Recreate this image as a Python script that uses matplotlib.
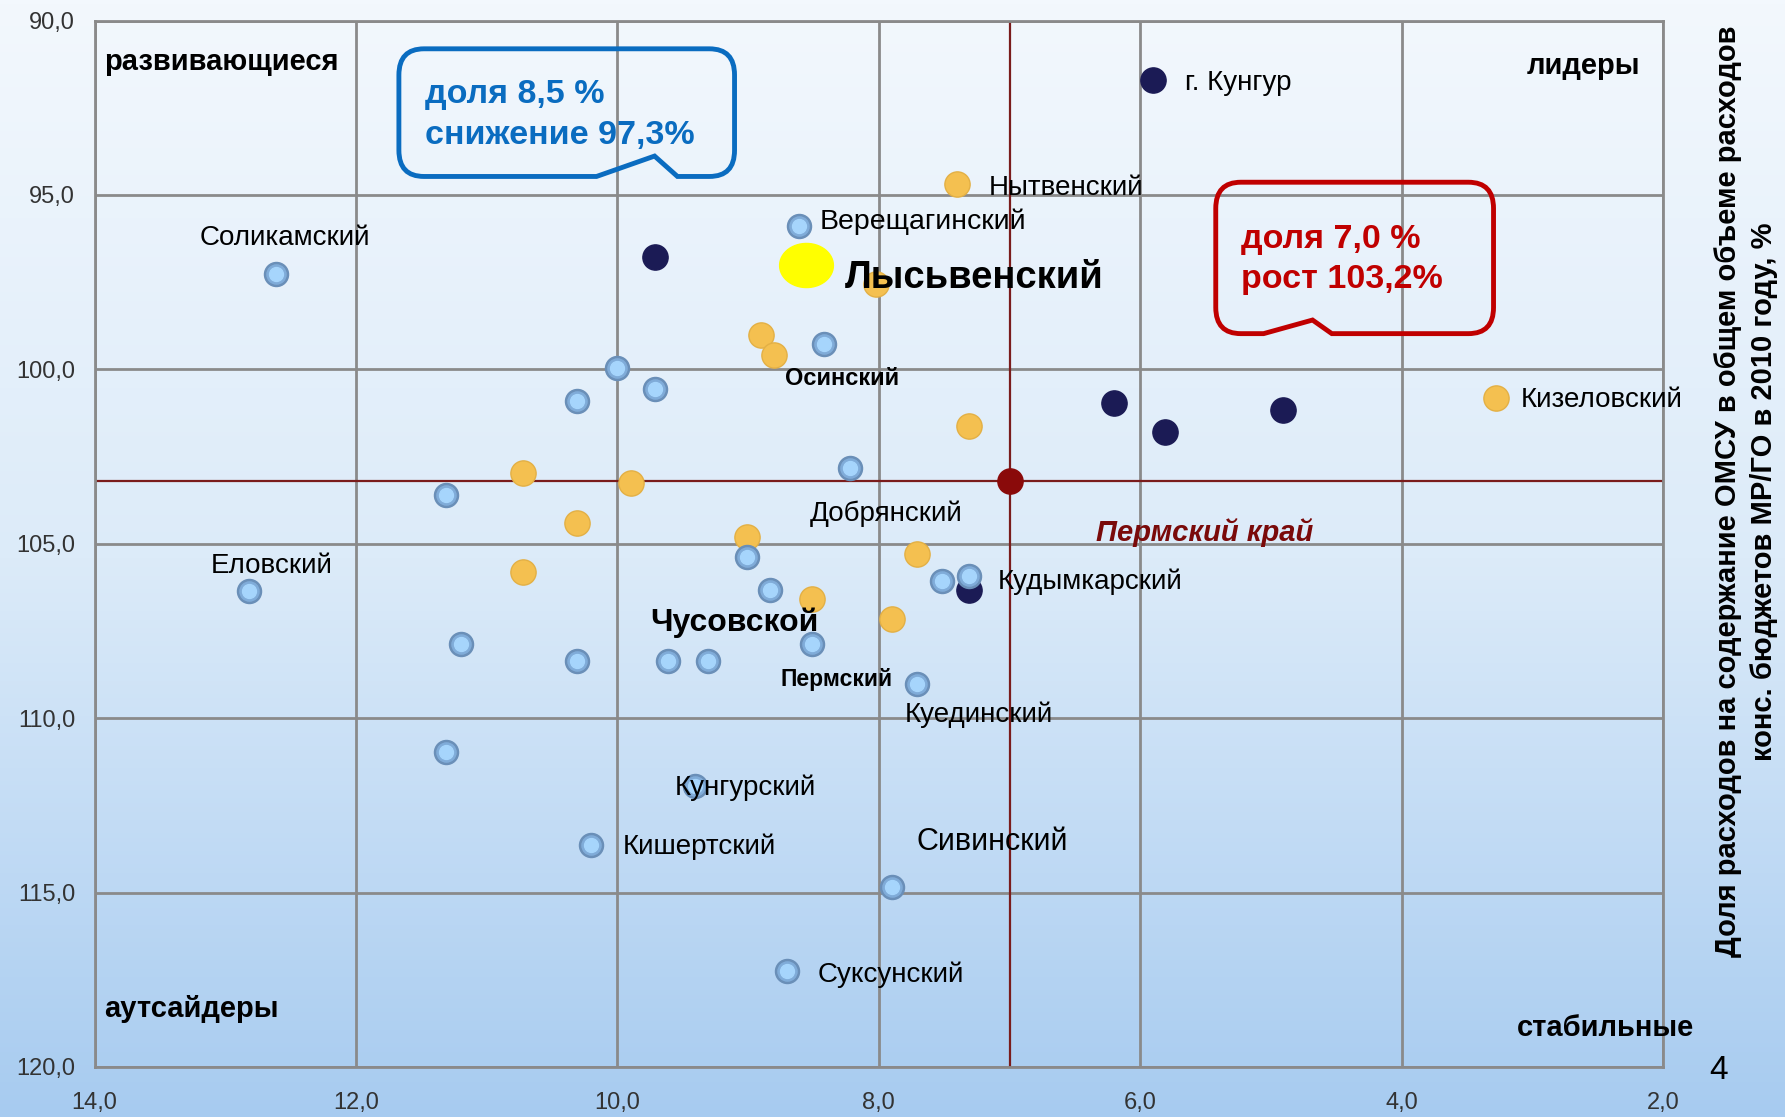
import numpy as np
import matplotlib
matplotlib.use('Agg')
import matplotlib.pyplot as plt
from matplotlib.path import Path
from matplotlib.patches import PathPatch
from matplotlib.ticker import FuncFormatter
from matplotlib.colors import LinearSegmentedColormap

# --- data ---
blue_x = [12.61, 8.61, 8.42, 10.0, 9.71, 10.31, 8.22, 11.31, 12.82, 9.01, 8.83,
          11.20, 10.31, 9.61, 9.31, 8.51, 7.71, 7.52, 7.31, 11.31, 9.41, 10.2,
          7.90, 8.70]
blue_y = [97.28, 95.88, 99.27, 99.96, 100.55, 100.9, 102.83, 103.61, 106.36,
          105.38, 106.32, 107.86, 108.35, 108.35, 108.35, 107.86, 109.03,
          106.06, 105.93, 110.96, 111.94, 113.64, 114.84, 117.26]
orange_x = [7.40, 8.02, 8.53, 8.90, 8.80, 7.31, 10.72, 9.90, 10.31, 9.01,
            7.71, 10.72, 8.51, 7.90, 3.28]
orange_y = [94.70, 97.54, 97.25, 99.01, 99.60, 101.62, 102.96, 103.25, 104.40,
            104.82, 105.28, 105.80, 106.59, 107.17, 100.81]
navy_x = [9.71, 5.90, 6.20, 5.81, 4.91, 7.31]
navy_y = [96.79, 91.70, 100.97, 101.79, 101.17, 106.32]
region_x, region_y = 7.0, 103.2          # Пермский край
lysva_x, lysva_y = 8.56, 97.0            # Лысьвенский

x_ticks = [14, 12, 10, 8, 6, 4, 2]
y_ticks = [90, 95, 100, 105, 110, 115, 120]

# labels: name, x, y, size, weight
labels = [
    ('Соликамский', 13.2, 96.24, 20, 'normal'),
    ('Верещагинский', 8.45, 95.78, 20.5, 'normal'),
    ('Лысьвенский', 8.26, 97.38, 27.5, 'bold'),
    ('Нытвенский', 7.16, 94.8, 20, 'normal'),
    ('г. Кунгур', 5.66, 91.8, 20, 'normal'),
    ('Кизеловский', 3.09, 100.87, 20, 'normal'),
    ('Осинский', 8.72, 100.25, 17, 'bold'),
    ('Добрянский', 8.53, 104.14, 20, 'normal'),
    ('Кудымкарский', 7.09, 106.1, 20, 'normal'),
    ('Еловский', 13.11, 105.64, 20, 'normal'),
    ('Чусовской', 9.75, 107.27, 23, 'bold'),
    ('Пермский', 8.75, 108.9, 16.5, 'semibold'),
    ('Куединский', 7.80, 109.9, 20, 'normal'),
    ('Кунгурский', 9.56, 112.0, 20, 'normal'),
    ('Кишертский', 9.96, 113.7, 20, 'normal'),
    ('Сивинский', 7.71, 113.54, 22, 'normal'),
    ('Суксунский', 8.47, 117.36, 20, 'normal'),
]

plt.rcParams['font.family'] = ['Liberation Sans', 'DejaVu Sans']

fig = plt.figure(figsize=(17.85, 11.17), dpi=100)

# background gradient
bg = fig.add_axes([0, 0, 1, 1], zorder=-10)
grad = np.linspace(0, 1, 256).reshape(-1, 1)
cm = LinearSegmentedColormap.from_list('bg', ['#f3f8fd', '#dcebf9', '#a7cbf0'])
bg.imshow(grad, aspect='auto', cmap=cm, extent=[0, 1, 0, 1])
bg.axis('off')

ax = fig.add_axes([0.053, 0.0448, 0.8787, 0.9368])
ax.set_facecolor('none')
ax.set_xlim(14, 2)
ax.set_ylim(120, 90)
ax.set_xticks(x_ticks)
ax.set_yticks(y_ticks)
fmt = FuncFormatter(lambda v, p: f'{v:.1f}'.replace('.', ','))
ax.xaxis.set_major_formatter(fmt)
ax.yaxis.set_major_formatter(fmt)
ax.tick_params(length=0, labelsize=17, labelcolor='#333333')
ax.tick_params(axis='y', pad=14)
ax.tick_params(axis='x', pad=18)
ax.grid(True, color='#8a8a8a', linewidth=2)
ax.set_axisbelow(True)
for s in ax.spines.values():
    s.set_color('#8a8a8a')
    s.set_linewidth(2)

ax.axvline(region_x, color='#7a1c1c', linewidth=1.6, zorder=1)
ax.axhline(region_y, color='#7a1c1c', linewidth=1.6, zorder=1)

ax.scatter(orange_x, orange_y, s=330, color='#f4c050', edgecolors='#e3b045',
           linewidths=1, zorder=3)
ax.scatter(blue_x, blue_y, s=300, color='#6a8fb8', zorder=4)
ax.scatter(blue_x, blue_y, s=190, color='#80acd9', zorder=4)
ax.scatter(blue_x, blue_y, s=100, color='#a6d5fc', zorder=4)
ax.scatter(navy_x, navy_y, s=330, color='#1b1b55', zorder=3)
ax.scatter([region_x], [region_y], s=330, color='#8a0a0a', zorder=5)

t = np.linspace(0, 2 * np.pi, 60)
ellipse = Path(np.column_stack([np.cos(t), 0.82 * np.sin(t)]))
ax.scatter([lysva_x], [lysva_y], s=1500, color='#ffff00', marker=ellipse,
           zorder=5)

for name, lx, ly, size, weight in labels:
    ax.text(lx, ly, name, fontsize=size, fontweight=weight, ha='left',
            va='center', color='black', zorder=6)
ax.text(6.34, 104.69, 'Пермский край', fontsize=21, fontweight='bold',
        style='italic', color='#7a0a0a', ha='left', va='center', zorder=6)

# quadrant names
qkw = dict(fontsize=21, fontweight='bold', transform=ax.transAxes)
ax.text(0.006, 0.96, 'развивающиеся', ha='left', va='center', **qkw)
ax.text(0.9855, 0.9565, 'лидеры', ha='right', va='center', **qkw)
ax.text(0.006, 0.0555, 'аутсайдеры', ha='left', va='center', **qkw)
ax.text(1.0196, 0.037, 'стабильные', ha='right', va='center', clip_on=False,
        **qkw)


def callout(x0, x1, y0, y1, n0, nt, n1, ny, color):
    rx, ry = 0.016, 0.025
    verts = [(n0, y0), (nt, ny), (n1, y0), (x1 - rx, y0), (x1, y0), (x1, y0 + ry),
             (x1, y1 - ry), (x1, y1), (x1 - rx, y1), (x0 + rx, y1), (x0, y1),
             (x0, y1 - ry), (x0, y0 + ry), (x0, y0), (x0 + rx, y0), (n0, y0)]
    codes = [Path.MOVETO, Path.LINETO, Path.LINETO, Path.LINETO, Path.CURVE3,
             Path.CURVE3, Path.LINETO, Path.CURVE3, Path.CURVE3, Path.LINETO,
             Path.CURVE3, Path.CURVE3, Path.LINETO, Path.CURVE3, Path.CURVE3,
             Path.CLOSEPOLY]
    p = PathPatch(Path(verts, codes), transform=ax.transAxes, facecolor='none',
                  edgecolor=color, linewidth=3.5, zorder=7, clip_on=False)
    ax.add_patch(p)


callout(0.194, 0.408, 0.851, 0.973, 0.320, 0.357, 0.3716, 0.8705, '#0a6cc0')
ax.text(0.2105, 0.91, 'доля 8,5 %\nснижение 97,3%', transform=ax.transAxes,
        fontsize=24.5, fontweight='bold', color='#0a6cc0', ha='left',
        va='center', linespacing=1.42, zorder=8)
callout(0.7148, 0.8919, 0.7008, 0.8455, 0.7453, 0.7765, 0.7888, 0.7138,
        '#c00000')
ax.text(0.7308, 0.7715, 'доля 7,0 %\nрост 103,2%', transform=ax.transAxes,
        fontsize=24.5, fontweight='bold', color='#c00000', ha='left',
        va='center', linespacing=1.4, zorder=8)

fig.text(0.978, 0.56, 'Доля расходов на содержание ОМСУ в общем объеме расходов\n'
         'конс. бюджетов МР/ГО в 2010 году, %', rotation=90, ha='center',
         va='center', fontsize=21, fontweight='bold', linespacing=1.35)
fig.text(0.963, 0.042, '4', fontsize=24, ha='center', va='center')

fig.savefig('out.png', dpi=100)
